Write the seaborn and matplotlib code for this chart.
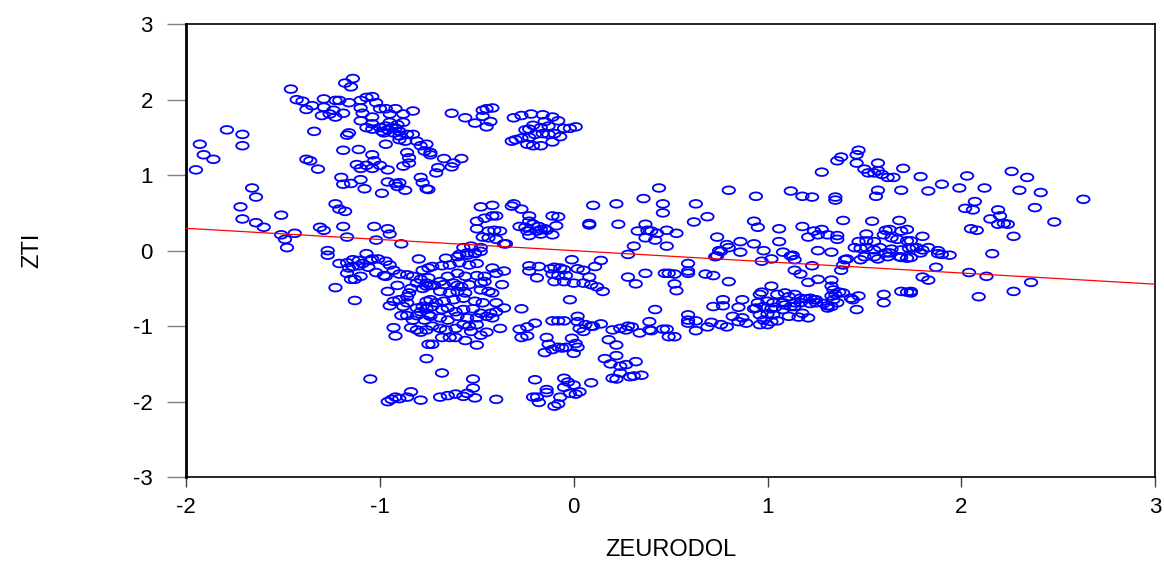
import numpy as np
import pandas as pd
import matplotlib
matplotlib.use('Agg')
import matplotlib.pyplot as plt
from matplotlib.path import Path
import seaborn as sns

# (ZEURODOL, ZTI) pairs, grouped by region
upper_left = [(-1.14, 2.28), (-1.18, 2.22), (-1.15, 2.17), (-1.46, 2.14), (-1.43, 2.00), (-1.40, 1.98),
              (-1.35, 1.92), (-1.38, 1.87), (-1.29, 2.01), (-1.23, 1.99), (-1.21, 1.99), (-1.16, 1.96),
              (-1.29, 1.90), (-1.24, 1.86), (-1.30, 1.79), (-1.26, 1.81), (-1.23, 1.77), (-1.19, 1.82),
              (-1.10, 1.99), (-1.07, 2.03), (-1.04, 2.04), (-1.02, 1.96), (-1.10, 1.89), (-1.09, 1.82),
              (-1.04, 1.77), (-1.00, 1.88), (-0.97, 1.88), (-0.92, 1.88), (-0.95, 1.81), (-0.88, 1.81),
              (-0.83, 1.85), (-1.10, 1.72), (-1.04, 1.68), (-1.07, 1.63), (-1.04, 1.61), (-1.00, 1.63),
              (-0.97, 1.65), (-0.94, 1.63), (-0.91, 1.67), (-0.88, 1.70), (-0.98, 1.56), (-0.93, 1.56),
              (-0.90, 1.58), (-0.86, 1.54), (-0.90, 1.47), (-0.83, 1.54), (-0.81, 1.45), (-0.79, 1.39),
              (-0.76, 1.41), (-0.77, 1.32), (-0.74, 1.27), (-0.86, 1.30), (-0.85, 1.23), (-0.85, 1.16),
              (-0.88, 1.12), (-0.97, 1.41), (-0.96, 1.60), (-0.92, 1.62), (-0.99, 1.58), (-0.95, 1.70),
              (-0.90, 1.52), (-0.87, 1.45)]

far_left = [(-1.79, 1.60), (-1.71, 1.54), (-1.71, 1.39), (-1.93, 1.41), (-1.91, 1.27), (-1.86, 1.21),
            (-1.95, 1.07), (-1.34, 1.58), (-1.17, 1.53), (-1.16, 1.56), (-1.19, 1.33), (-1.11, 1.34),
            (-1.04, 1.27), (-1.12, 1.14), (-1.07, 1.13), (-1.03, 1.19), (-1.00, 1.13), (-0.96, 1.07),
            (-1.10, 1.09), (-1.04, 1.09), (-1.38, 1.21), (-1.36, 1.19), (-1.32, 1.08), (-1.20, 0.97),
            (-1.19, 0.88), (-1.15, 0.89), (-1.10, 0.94), (-1.08, 0.82), (-0.99, 0.76), (-0.96, 0.91),
            (-0.92, 0.89), (-0.90, 0.90), (-0.91, 0.85), (-0.87, 0.80), (-0.79, 0.97), (-0.78, 0.90),
            (-0.76, 0.82), (-1.66, 0.83), (-1.64, 0.71), (-1.72, 0.58), (-1.71, 0.42), (-1.64, 0.37),
            (-1.60, 0.31), (-1.51, 0.47), (-1.51, 0.21), (-1.49, 0.15), (-1.48, 0.04), (-1.44, 0.23),
            (-1.23, 0.62), (-1.21, 0.55), (-1.18, 0.52), (-1.31, 0.31), (-1.29, 0.27), (-1.19, 0.32),
            (-1.17, 0.18), (-1.03, 0.32), (-0.96, 0.29), (-0.95, 0.22), (-1.02, 0.14), (-0.89, 0.09),
            (-1.27, 0.00), (-1.27, -0.06)]

upper_mid = [(-0.63, 1.82), (-0.56, 1.76), (-0.51, 1.69), (-0.47, 1.78), (-0.45, 1.88), (-0.42, 1.89),
             (-0.47, 1.86), (-0.43, 1.71), (-0.45, 1.64), (-0.74, 1.30), (-0.67, 1.22), (-0.62, 1.16),
             (-0.63, 1.11), (-0.58, 1.22), (-0.70, 1.10), (-0.71, 1.03), (-0.75, 0.81),
             (-0.31, 1.76), (-0.27, 1.79), (-0.22, 1.81), (-0.16, 1.80), (-0.11, 1.77), (-0.08, 1.72),
             (-0.15, 1.71), (-0.13, 1.65), (-0.17, 1.63), (-0.21, 1.66), (-0.25, 1.60), (-0.23, 1.61),
             (-0.20, 1.54), (-0.16, 1.55), (-0.13, 1.54), (-0.10, 1.55), (-0.07, 1.51), (-0.23, 1.50),
             (-0.32, 1.45), (-0.30, 1.47), (-0.27, 1.49), (-0.24, 1.41), (-0.21, 1.39), (-0.17, 1.39),
             (-0.11, 1.44), (-0.05, 1.62), (-0.02, 1.62), (0.01, 1.64)]

center = [(0.44, 0.83), (0.36, 0.69), (0.46, 0.62), (0.46, 0.50), (0.22, 0.62), (0.10, 0.60),
          (0.08, 0.36), (0.08, 0.34), (0.23, 0.35), (0.37, 0.35), (0.33, 0.26), (0.38, 0.27),
          (0.40, 0.26), (0.43, 0.23), (0.48, 0.27), (0.37, 0.17), (0.42, 0.14), (0.31, 0.06),
          (0.28, -0.05), (0.48, 0.06),
          (-0.48, 0.58), (-0.42, 0.60), (-0.32, 0.59), (-0.31, 0.62), (-0.27, 0.55), (-0.50, 0.39),
          (-0.46, 0.43), (-0.42, 0.46), (-0.40, 0.46), (-0.50, 0.29), (-0.44, 0.26), (-0.41, 0.27),
          (-0.38, 0.26), (-0.47, 0.18), (-0.44, 0.17), (-0.40, 0.15), (-0.36, 0.09), (-0.35, 0.09),
          (-0.57, 0.04), (-0.53, 0.06), (-0.48, 0.04), (-0.51, -0.03), (-0.55, -0.06), (-0.60, -0.08),
          (-0.66, -0.10),
          (-0.23, 0.46), (-0.23, 0.39), (-0.28, 0.32), (-0.25, 0.31), (-0.21, 0.35), (-0.18, 0.32),
          (-0.17, 0.28), (-0.15, 0.29), (-0.19, 0.26), (-0.24, 0.26), (-0.11, 0.46), (-0.08, 0.45),
          (-0.09, 0.33), (-0.14, 0.27), (-0.23, 0.20), (-0.17, 0.22), (-0.11, 0.21)]

right_upper = [(1.47, 1.33), (1.46, 1.27), (1.38, 1.24), (1.36, 1.19), (1.46, 1.16), (1.28, 1.04),
               (1.57, 1.16), (1.50, 1.08), (1.52, 1.03), (1.55, 1.03), (1.57, 1.06), (1.59, 1.01),
               (1.62, 0.97), (1.65, 0.97), (1.70, 1.09), (0.80, 0.80), (0.94, 0.72), (1.12, 0.79),
               (1.18, 0.72), (1.23, 0.71), (1.35, 0.71), (1.35, 0.67), (1.57, 0.80), (1.56, 0.72),
               (1.69, 0.80), (0.63, 0.62), (0.69, 0.45), (0.62, 0.38), (0.53, 0.23), (0.74, 0.18),
               (0.93, 0.39), (0.95, 0.31), (1.06, 0.29), (1.18, 0.32), (1.24, 0.26), (1.28, 0.28),
               (1.21, 0.18), (1.26, 0.21), (1.31, 0.21), (1.36, 0.20), (1.36, 0.15), (1.39, 0.40),
               (1.54, 0.39), (1.68, 0.40), (1.51, 0.22), (1.61, 0.27), (1.63, 0.28), (1.69, 0.26),
               (1.72, 0.28), (1.60, 0.21), (1.64, 0.17), (1.67, 0.15), (1.72, 0.13),
               (2.26, 1.05), (2.34, 0.97), (2.03, 0.99), (1.79, 0.98), (1.90, 0.88), (1.99, 0.83),
               (2.12, 0.83), (1.83, 0.79), (2.30, 0.80), (2.41, 0.77), (2.63, 0.68), (2.07, 0.65),
               (2.02, 0.56), (2.06, 0.54), (2.19, 0.54), (2.38, 0.57), (2.20, 0.46), (2.15, 0.42),
               (2.19, 0.35), (2.22, 0.36), (2.24, 0.35), (2.48, 0.38), (2.05, 0.29), (2.08, 0.27),
               (2.27, 0.19), (1.80, 0.19)]

right_mid = [(1.47, 0.12), (1.51, 0.13), (1.55, 0.12), (1.45, 0.04), (1.48, 0.03), (1.51, 0.04),
             (1.55, 0.01), (1.58, 0.04), (1.61, -0.03), (1.64, 0.02), (1.69, 0.01), (1.73, 0.03),
             (1.50, -0.08), (1.55, -0.08), (1.62, -0.08), (1.69, -0.09), (0.79, 0.08), (0.80, 0.04),
             (0.75, 0.00), (0.73, -0.08), (0.86, 0.12), (0.93, 0.09), (0.86, -0.02), (0.98, 0.00),
             (1.06, 0.12), (1.08, -0.02), (1.13, -0.06), (1.26, 0.00), (1.33, -0.02),
             (1.74, 0.13), (1.75, 0.04), (1.77, 0.04), (1.80, 0.01), (1.83, 0.04), (1.88, 0.00),
             (1.79, -0.03), (1.88, -0.04), (1.94, -0.06), (1.74, -0.09), (2.16, -0.04), (1.90, -0.05),
             (1.87, -0.22), (1.80, -0.35), (1.83, -0.39), (1.74, -0.54), (1.74, -0.56), (2.04, -0.29),
             (2.13, -0.34), (2.36, -0.42), (2.27, -0.54), (2.09, -0.61)]

lower_right = [(0.59, -0.17), (0.59, -0.27), (0.59, -0.30), (0.52, -0.31), (0.49, -0.30), (0.52, -0.44),
               (0.53, -0.53), (0.68, -0.31), (0.72, -0.33), (0.80, -0.41), (0.74, -0.07), (0.76, -0.01),
               (0.97, -0.14), (1.02, -0.11), (1.12, -0.07), (1.14, -0.12), (1.14, -0.26), (1.17, -0.31),
               (1.21, -0.42), (1.23, -0.20), (1.26, -0.38), (1.33, -0.39), (1.38, -0.26), (1.39, -0.19),
               (1.40, -0.12), (1.41, -0.11), (1.48, -0.12), (1.57, -0.11), (1.63, -0.03), (1.68, -0.08),
               (1.72, -0.10),
               (1.02, -0.47), (0.96, -0.58), (0.97, -0.55), (1.05, -0.58), (1.09, -0.56), (1.11, -0.61),
               (1.14, -0.58), (1.17, -0.63), (1.20, -0.64), (1.22, -0.63), (1.25, -0.65), (1.00, -0.67),
               (1.03, -0.69), (1.08, -0.69), (1.09, -0.72), (1.14, -0.69), (1.17, -0.69), (1.22, -0.70),
               (0.95, -0.69), (0.94, -0.76), (0.98, -0.74), (1.02, -0.77), (1.04, -0.75), (1.08, -0.78),
               (1.12, -0.74), (1.14, -0.74), (0.96, -0.85), (1.00, -0.84), (1.03, -0.85), (0.98, -0.92),
               (1.02, -0.94), (1.05, -0.93), (1.11, -0.87), (1.16, -0.88), (1.18, -0.83), (1.21, -0.89),
               (0.96, -0.98), (1.00, -0.98), (0.89, -0.96), (0.85, -0.94), (0.82, -0.87), (0.87, -0.89),
               (0.77, -0.73), (0.72, -0.74), (0.85, -0.75), (0.87, -0.65), (0.77, -0.65), (0.93, -0.77),
               (0.59, -0.85), (0.59, -0.92), (0.59, -0.96), (0.63, -0.93), (0.63, -1.06), (0.69, -1.01),
               (0.71, -0.95), (0.76, -0.98), (0.79, -1.01), (0.52, -1.14), (0.48, -1.04),
               (1.33, -0.47), (1.34, -0.52), (1.37, -0.55), (1.35, -0.58), (1.39, -0.56), (1.43, -0.63),
               (1.47, -0.60), (1.44, -0.65), (1.33, -0.60), (1.36, -0.69), (1.31, -0.76), (1.33, -0.74),
               (1.46, -0.78), (1.34, -0.65), (1.60, -0.58), (1.60, -0.69), (1.69, -0.54), (1.72, -0.55),
               (1.24, -0.65), (1.25, -0.69), (1.29, -0.70), (1.31, -0.73)]

lower_left = [(-1.07, -0.04), (-1.21, -0.17), (-1.17, -0.16), (-1.14, -0.12), (-1.11, -0.13), (-1.09, -0.17),
              (-1.05, -0.13), (-1.04, -0.11), (-1.01, -0.11), (-0.97, -0.14), (-0.95, -0.19), (-1.16, -0.23),
              (-1.14, -0.21), (-1.11, -0.20), (-1.06, -0.22), (-1.17, -0.30), (-1.15, -0.38), (-1.13, -0.38),
              (-1.10, -0.34), (-1.02, -0.29), (-0.98, -0.33), (-0.97, -0.34), (-0.93, -0.26), (-0.90, -0.31),
              (-0.86, -0.32), (-0.80, -0.11), (-0.78, -0.26), (-0.75, -0.23), (-1.23, -0.49), (-1.13, -0.66),
              (-0.91, -0.46), (-0.96, -0.54), (-0.93, -0.67), (-0.95, -0.73), (-0.90, -0.65), (-0.86, -0.61),
              (-0.85, -0.56), (-0.86, -0.69), (-0.88, -0.74), (-0.83, -0.34), (-0.79, -0.38), (-0.76, -0.43),
              (-0.81, -0.43), (-0.78, -0.50), (-0.74, -0.46), (-0.84, -0.50), (-0.81, -0.76), (-0.78, -0.74),
              (-0.79, -0.81), (-0.76, -0.77), (-0.75, -0.85), (-0.81, -0.86), (-0.86, -0.86), (-0.89, -0.86),
              (-0.83, -0.92), (-0.77, -0.92), (-0.76, -0.67), (-0.93, -1.02), (-0.92, -1.13), (-0.84, -1.02),
              (-0.81, -1.05), (-0.79, -1.08), (-0.76, -1.05), (-0.75, -1.24), (-0.76, -1.43), (-1.05, -1.70),
              (-0.84, -1.87), (-0.96, -2.00), (-0.94, -1.97), (-0.92, -1.94), (-0.90, -1.96), (-0.86, -1.94),
              (-0.79, -1.98)]

lower_mid = [(-0.59, -0.05), (-0.55, -0.03), (-0.51, -0.04), (-0.48, -0.01),
             (-0.73, -0.21), (-0.68, -0.20), (-0.64, -0.19), (-0.59, -0.16), (-0.54, -0.19), (-0.50, -0.17),
             (-0.42, -0.23), (-0.36, -0.27),
             (-0.75, -0.36), (-0.69, -0.41), (-0.65, -0.34), (-0.60, -0.30), (-0.56, -0.34), (-0.50, -0.33),
             (-0.46, -0.34), (-0.40, -0.30), (-0.37, -0.45),
             (-0.76, -0.47), (-0.72, -0.46), (-0.67, -0.45), (-0.62, -0.43), (-0.60, -0.46), (-0.58, -0.48),
             (-0.54, -0.45), (-0.48, -0.43), (-0.46, -0.41),
             (-0.69, -0.54), (-0.64, -0.56), (-0.60, -0.54), (-0.56, -0.56), (-0.48, -0.52), (-0.44, -0.54),
             (-0.42, -0.56),
             (-0.74, -0.65), (-0.71, -0.69), (-0.67, -0.67), (-0.62, -0.65), (-0.57, -0.63), (-0.51, -0.67),
             (-0.47, -0.69), (-0.40, -0.69), (-0.36, -0.76),
             (-0.73, -0.74), (-0.68, -0.78), (-0.65, -0.76), (-0.61, -0.81), (-0.57, -0.78), (-0.52, -0.77),
             (-0.48, -0.83), (-0.43, -0.83), (-0.40, -0.81),
             (-0.74, -0.87), (-0.69, -0.89), (-0.65, -0.92), (-0.60, -0.87), (-0.55, -0.89), (-0.50, -0.89),
             (-0.45, -0.87), (-0.42, -0.89),
             (-0.73, -1.00), (-0.69, -1.03), (-0.66, -1.05), (-0.61, -1.03), (-0.57, -0.98), (-0.54, -1.00),
             (-0.50, -0.98), (-0.53, -1.07), (-0.48, -1.12), (-0.45, -1.08), (-0.38, -1.03),
             (-0.68, -1.15), (-0.64, -1.15), (-0.61, -1.15), (-0.73, -1.24), (-0.56, -1.19), (-0.50, -1.25),
             (-0.68, -1.62), (-0.52, -1.70), (-0.52, -1.82), (-0.69, -1.94), (-0.65, -1.92), (-0.61, -1.90),
             (-0.57, -1.93), (-0.55, -1.89), (-0.51, -1.95), (-0.40, -1.97),
             (-0.27, -0.77), (-0.23, -0.20), (-0.18, -0.21), (-0.23, -0.27), (-0.19, -0.36)]

lower_center = [(-0.12, -0.24), (-0.10, -0.22), (-0.07, -0.23), (-0.05, -0.25), (-0.11, -0.31), (-0.08, -0.33),
                (-0.04, -0.33), (-0.10, -0.41), (-0.05, -0.41), (0.00, -0.43), (0.02, -0.24), (0.05, -0.26),
                (0.08, -0.35), (0.05, -0.43), (0.09, -0.45), (-0.01, -0.12), (0.14, -0.13), (0.11, -0.21),
                (0.12, -0.48), (0.15, -0.54), (-0.02, -0.65), (0.28, -0.35), (0.32, -0.44), (0.37, -0.30),
                (0.47, -0.30), (0.42, -0.78),
                (-0.28, -1.04), (-0.27, -1.15), (-0.24, -1.13), (-0.24, -1.01), (-0.20, -0.96), (-0.11, -0.93),
                (-0.08, -0.93), (-0.05, -0.93), (0.02, -0.87), (0.02, -0.94), (0.06, -0.98), (0.03, -1.03),
                (0.09, -1.00), (0.05, -1.07), (0.10, -1.00), (0.14, -0.97),
                (-0.14, -1.15), (-0.13, -1.24), (-0.15, -1.35), (-0.11, -1.31), (-0.08, -1.28), (-0.06, -1.29),
                (-0.04, -1.28), (-0.01, -1.16), (0.01, -1.23), (0.02, -1.28), (0.00, -1.36),
                (0.20, -1.05), (0.24, -1.03), (0.28, -1.00), (0.27, -1.05), (0.30, -1.01), (0.34, -1.09),
                (0.39, -1.05), (0.40, -1.06), (0.46, -1.04), (0.49, -1.14), (0.39, -0.94), (0.18, -1.18),
                (0.22, -1.25),
                (0.16, -1.43), (0.19, -1.50), (0.22, -1.39), (0.24, -1.53), (0.27, -1.51), (0.32, -1.47),
                (0.24, -1.62), (0.29, -1.67), (0.31, -1.66), (0.35, -1.65), (0.22, -1.70), (0.20, -1.69),
                (-0.20, -1.71), (-0.14, -1.84), (-0.14, -1.88), (-0.19, -1.94), (-0.18, -2.01), (-0.21, -1.94),
                (-0.05, -1.69), (-0.03, -1.74), (0.00, -1.78), (-0.02, -1.89), (0.01, -1.90), (-0.05, -1.81),
                (-0.07, -1.94), (-0.08, -2.03), (-0.10, -2.06), (0.03, -1.87), (0.09, -1.75)]

# least squares line as drawn on the chart
fit_intercept = 0.0
fit_slope = -0.148

x_ticks = [-2, -1, 0, 1, 2, 3]
y_ticks = [-3, -2, -1, 0, 1, 2, 3]

groups = [upper_left, far_left, upper_mid, center, right_upper, right_mid,
          lower_right, lower_left, lower_mid, lower_center]
pts = np.array([p for g in groups for p in g])
df = pd.DataFrame({'ZEURODOL': pts[:, 0], 'ZTI': pts[:, 1]})

sns.set_style('ticks')
plt.rcParams['font.family'] = ['Liberation Sans', 'DejaVu Sans']
plt.rcParams['axes.unicode_minus'] = False
plt.rcParams['text.color'] = 'black'
plt.rcParams['axes.labelcolor'] = 'black'

fig = plt.figure(figsize=(11.64, 5.62), dpi=100)
ax = fig.add_axes([0.16, 0.151, 0.8323, 0.806])

# the original circles are stretched sideways
circ = Path.unit_circle()
ellipse = Path(circ.vertices * [1.0, 0.62], circ.codes)

sns.scatterplot(data=df, x='ZEURODOL', y='ZTI', marker=ellipse, s=80,
                color='#0000ff', facecolors='none', edgecolor='#0000ff',
                linewidth=1.3, ax=ax, zorder=3)

ax.set_xlim(x_ticks[0], x_ticks[-1])
ax.set_ylim(y_ticks[0], y_ticks[-1])
line_x = np.array(ax.get_xlim())
line_y = fit_intercept + fit_slope * line_x
sns.lineplot(x=line_x, y=line_y, color='#ff0000', linewidth=0.9, ax=ax, zorder=4)

ax.set_xticks(x_ticks)
ax.set_yticks(y_ticks)
ax.tick_params(axis='y', length=14, width=1, color='#7f7f7f', pad=10, labelsize=16, labelcolor='black')
ax.tick_params(axis='x', length=7, width=1, color='#404040', pad=7, labelsize=16, labelcolor='black')
for side in ['top', 'right', 'bottom']:
    ax.spines[side].set_linewidth(1.2)
    ax.spines[side].set_color('black')
ax.spines['left'].set_linewidth(2)
ax.spines['left'].set_color('black')

ax.set_xlabel('ZEURODOL', fontsize=17, color='black')
ax.set_ylabel('ZTI', fontsize=17, color='black')
ax.xaxis.set_label_coords(0.5, -0.137)
ax.yaxis.set_label_coords(-0.148, 0.5)

plt.savefig('out.png', dpi=100)
